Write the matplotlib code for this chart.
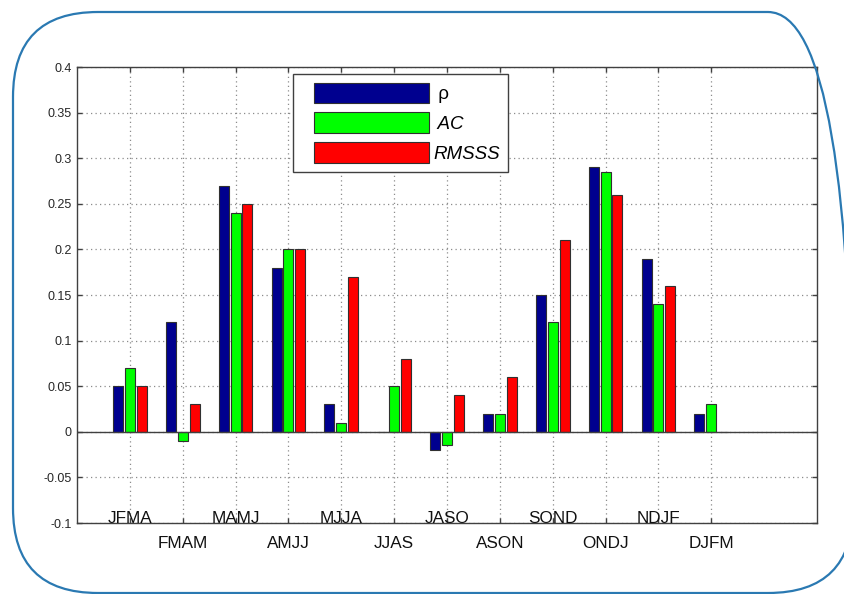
import matplotlib
matplotlib.use("Agg")
import matplotlib.pyplot as plt
import matplotlib.transforms as mtransforms
from matplotlib.patches import FancyBboxPatch, Patch
from matplotlib.legend_handler import HandlerPatch
import numpy as np

plt.rcParams['font.family'] = ['Liberation Sans', 'DejaVu Sans']

# seasons (4-month windows)
seasons = ['JFMA', 'FMAM', 'MAMJ', 'AMJJ', 'MJJA', 'JJAS',
           'JASO', 'ASON', 'SOND', 'ONDJ', 'NDJF', 'DJFM']

rho = [0.05, 0.12, 0.27, 0.18, 0.03, 0.0, -0.02, 0.02, 0.15, 0.29, 0.19, 0.02]
ac = [0.07, -0.01, 0.24, 0.20, 0.01, 0.05, -0.015, 0.02, 0.12, 0.285, 0.14, 0.03]
rmsss = [0.05, 0.03, 0.25, 0.20, 0.17, 0.08, 0.04, 0.06, 0.21, 0.26, 0.16, 0.0]

series_labels = [' ρ', ' AC', 'RMSSS']
colors = ['#00008F', '#00FF00', '#FF0000']

W, H = 845, 594
fig = plt.figure(figsize=(W / 100, H / 100), dpi=100)
fig.patch.set_facecolor('white')

# rounded blue frame around everything (pixel coords), right edge runs off the image
frame = FancyBboxPatch((13, 1), 840, 581, boxstyle='round,pad=0,rounding_size=85',
                       transform=mtransforms.IdentityTransform(),
                       facecolor='none', edgecolor='#2A79B2', linewidth=1.6)
fig.add_artist(frame)

ax = fig.add_axes([77 / W, (H - 523) / H, 740 / W, 456 / H])

x = np.arange(1, len(seasons) + 1)
width = 0.19
offset = 0.224
for i, (vals, col, lab) in enumerate(zip([rho, ac, rmsss], colors, series_labels)):
    ax.bar(x + (i - 1) * offset, vals, width, color=col, edgecolor='#303030',
           linewidth=0.8, label=lab, zorder=3)

ax.axhline(0, color='#404040', linewidth=1.0, zorder=4)

ax.set_xlim(0, 14)
ax.set_ylim(-0.1, 0.4)
ax.set_xticks(x)
ax.set_xticklabels([''] * len(x))
yt = np.arange(-0.1, 0.4001, 0.05)
ax.set_yticks(yt)
ax.set_yticklabels(['%g' % round(v, 2) for v in yt], fontsize=9)

ax.grid(True, linestyle=(0, (1, 2.6)), color='#8C8C8C', linewidth=0.9)
ax.set_axisbelow(True)
ax.tick_params(direction='in', length=3.5, width=1, color='#404040',
               top=True, right=True, pad=4, labelcolor='#262626')
for s in ax.spines.values():
    s.set_color('#404040')
    s.set_linewidth(1.0)

# alternating season labels
trans_in = mtransforms.blended_transform_factory(ax.transData, ax.transAxes)
trans_out = mtransforms.offset_copy(trans_in, fig=fig, y=-25, units='dots')
for i, name in enumerate(seasons):
    if i % 2 == 0:
        ax.text(x[i], 0.0, name, transform=trans_in, ha='center', va='baseline',
                fontsize=12.3, color='#111111', zorder=5)
    else:
        ax.text(x[i], 0.0, name, transform=trans_out, ha='center', va='baseline',
                fontsize=12.3, color='#111111')

fs = 13.5
fs_px = fs * 100 / 72
handles = [Patch(facecolor=c, edgecolor='#303030', linewidth=0.8) for c in colors]
leg = ax.legend(handles, series_labels, loc='upper left',
                bbox_to_anchor=(292.7 / W, 1 - 74 / H),
                bbox_transform=fig.transFigure, borderaxespad=0,
                fontsize=fs, frameon=True, fancybox=False, framealpha=1,
                edgecolor='#404040', borderpad=0.46,
                handlelength=128 / fs_px, handleheight=25 / fs_px,
                handletextpad=0.2, labelspacing=0.48,
                handler_map={Patch: HandlerPatch(xpad=13 / fs_px)})
leg.get_frame().set_linewidth(1.0)
leg.set_zorder(10)
for t in leg.get_texts()[1:]:
    t.set_fontstyle('italic')

fig.savefig('out.png', dpi=100)
